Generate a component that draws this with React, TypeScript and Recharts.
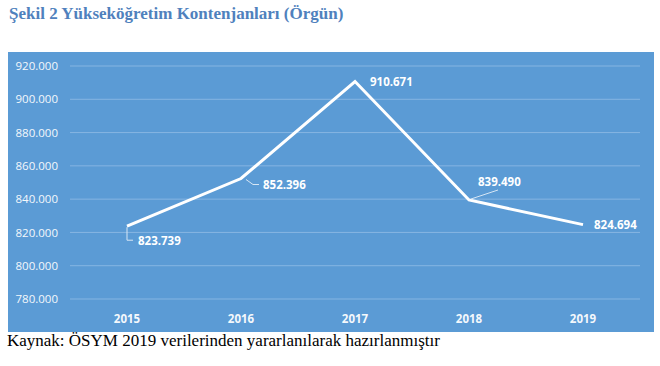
import React from 'react';
import { LineChart, Line, XAxis, YAxis, CartesianGrid, LabelList } from 'recharts';

const years = ['2015', '2016', '2017', '2018', '2019'];
const quotas = [823739, 852396, 910671, 839490, 824694];
const yTicks = [780000, 800000, 820000, 840000, 860000, 880000, 900000, 920000];

const data = years.map((year, i) => ({ year, value: quotas[i] }));

const fmt = (v: number) => v.toLocaleString('de-DE');

const labelFont = "'Open Sans', 'Liberation Sans', sans-serif";

// label placement per point: text offset and leader line shape
const ValueLabel = (props: any) => {
  const { x, y, value, index } = props;
  const text = fmt(value);
  const style = { fill: '#fff', fontSize: 11.5, fontWeight: 700, fontFamily: labelFont };
  if (index === 0) {
    return (
      <g>
        <polyline points={`${x},${y + 1} ${x},${y + 14} ${x + 6},${y + 14}`} fill="none" stroke="#d6e6f5" strokeWidth={1} />
        <text x={x + 11} y={y + 19} style={style}>{text}</text>
      </g>
    );
  }
  if (index === 1) {
    return (
      <g>
        <polyline points={`${x + 5},${y + 1} ${x + 12},${y + 6} ${x + 18},${y + 6}`} fill="none" stroke="#d6e6f5" strokeWidth={1} />
        <text x={x + 22} y={y + 10} style={style}>{text}</text>
      </g>
    );
  }
  if (index === 3) {
    return (
      <g>
        <line x1={x + 2} y1={y - 1} x2={x + 29} y2={y - 10} stroke="#d6e6f5" strokeWidth={1} />
        <text x={x + 9} y={y - 14} style={style}>{text}</text>
      </g>
    );
  }
  return (
    <text x={x + (index === 2 ? 15 : 11)} y={y + 4} style={style}>{text}</text>
  );
};

const App: React.FC = () => {
  return (
    <div style={{ position: 'absolute', left: 0, top: 0, width: 660, height: 366, background: '#fff' }}>
      <div style={{ position: 'absolute', left: 9, top: 4, fontFamily: "'Liberation Serif', serif", fontWeight: 700, fontSize: 17, color: '#4F81BD', whiteSpace: 'nowrap' }}>
        Şekil 2 Yükseköğretim Kontenjanları (Örgün)
      </div>
      <div style={{ position: 'absolute', left: 8, top: 52, width: 646, height: 280, background: '#5B9BD5' }}>
        <LineChart width={646} height={280} data={data} margin={{ top: 14, right: 14, bottom: 0, left: 0 }}>
          <CartesianGrid vertical={false} stroke="#86b5e2" strokeWidth={1} />
          <XAxis
            dataKey="year"
            axisLine={false}
            tickLine={false}
            height={33}
            padding={{ left: 57, right: 57 }}
            tick={{ fill: '#f4f8fc', fontSize: 11.5, fontWeight: 700, fontFamily: labelFont }}
            tickMargin={10}
          />
          <YAxis
            domain={[780000, 920000]}
            ticks={yTicks}
            tickFormatter={fmt}
            axisLine={false}
            tickLine={false}
            width={62}
            tick={{ fill: '#f4f8fc', fontSize: 11.5, fontFamily: labelFont }}
            tickMargin={6}
          />
          <Line
            type="linear"
            dataKey="value"
            stroke="#ffffff"
            strokeWidth={3}
            dot={false}
            isAnimationActive={false}
          >
            <LabelList dataKey="value" content={<ValueLabel />} />
          </Line>
        </LineChart>
      </div>
      <div style={{ position: 'absolute', left: 7, top: 331, fontFamily: "'Liberation Serif', serif", fontSize: 17, color: '#000', whiteSpace: 'nowrap' }}>
        Kaynak: ÖSYM 2019 verilerinden yararlanılarak hazırlanmıştır
      </div>
    </div>
  );
};

export default App;
